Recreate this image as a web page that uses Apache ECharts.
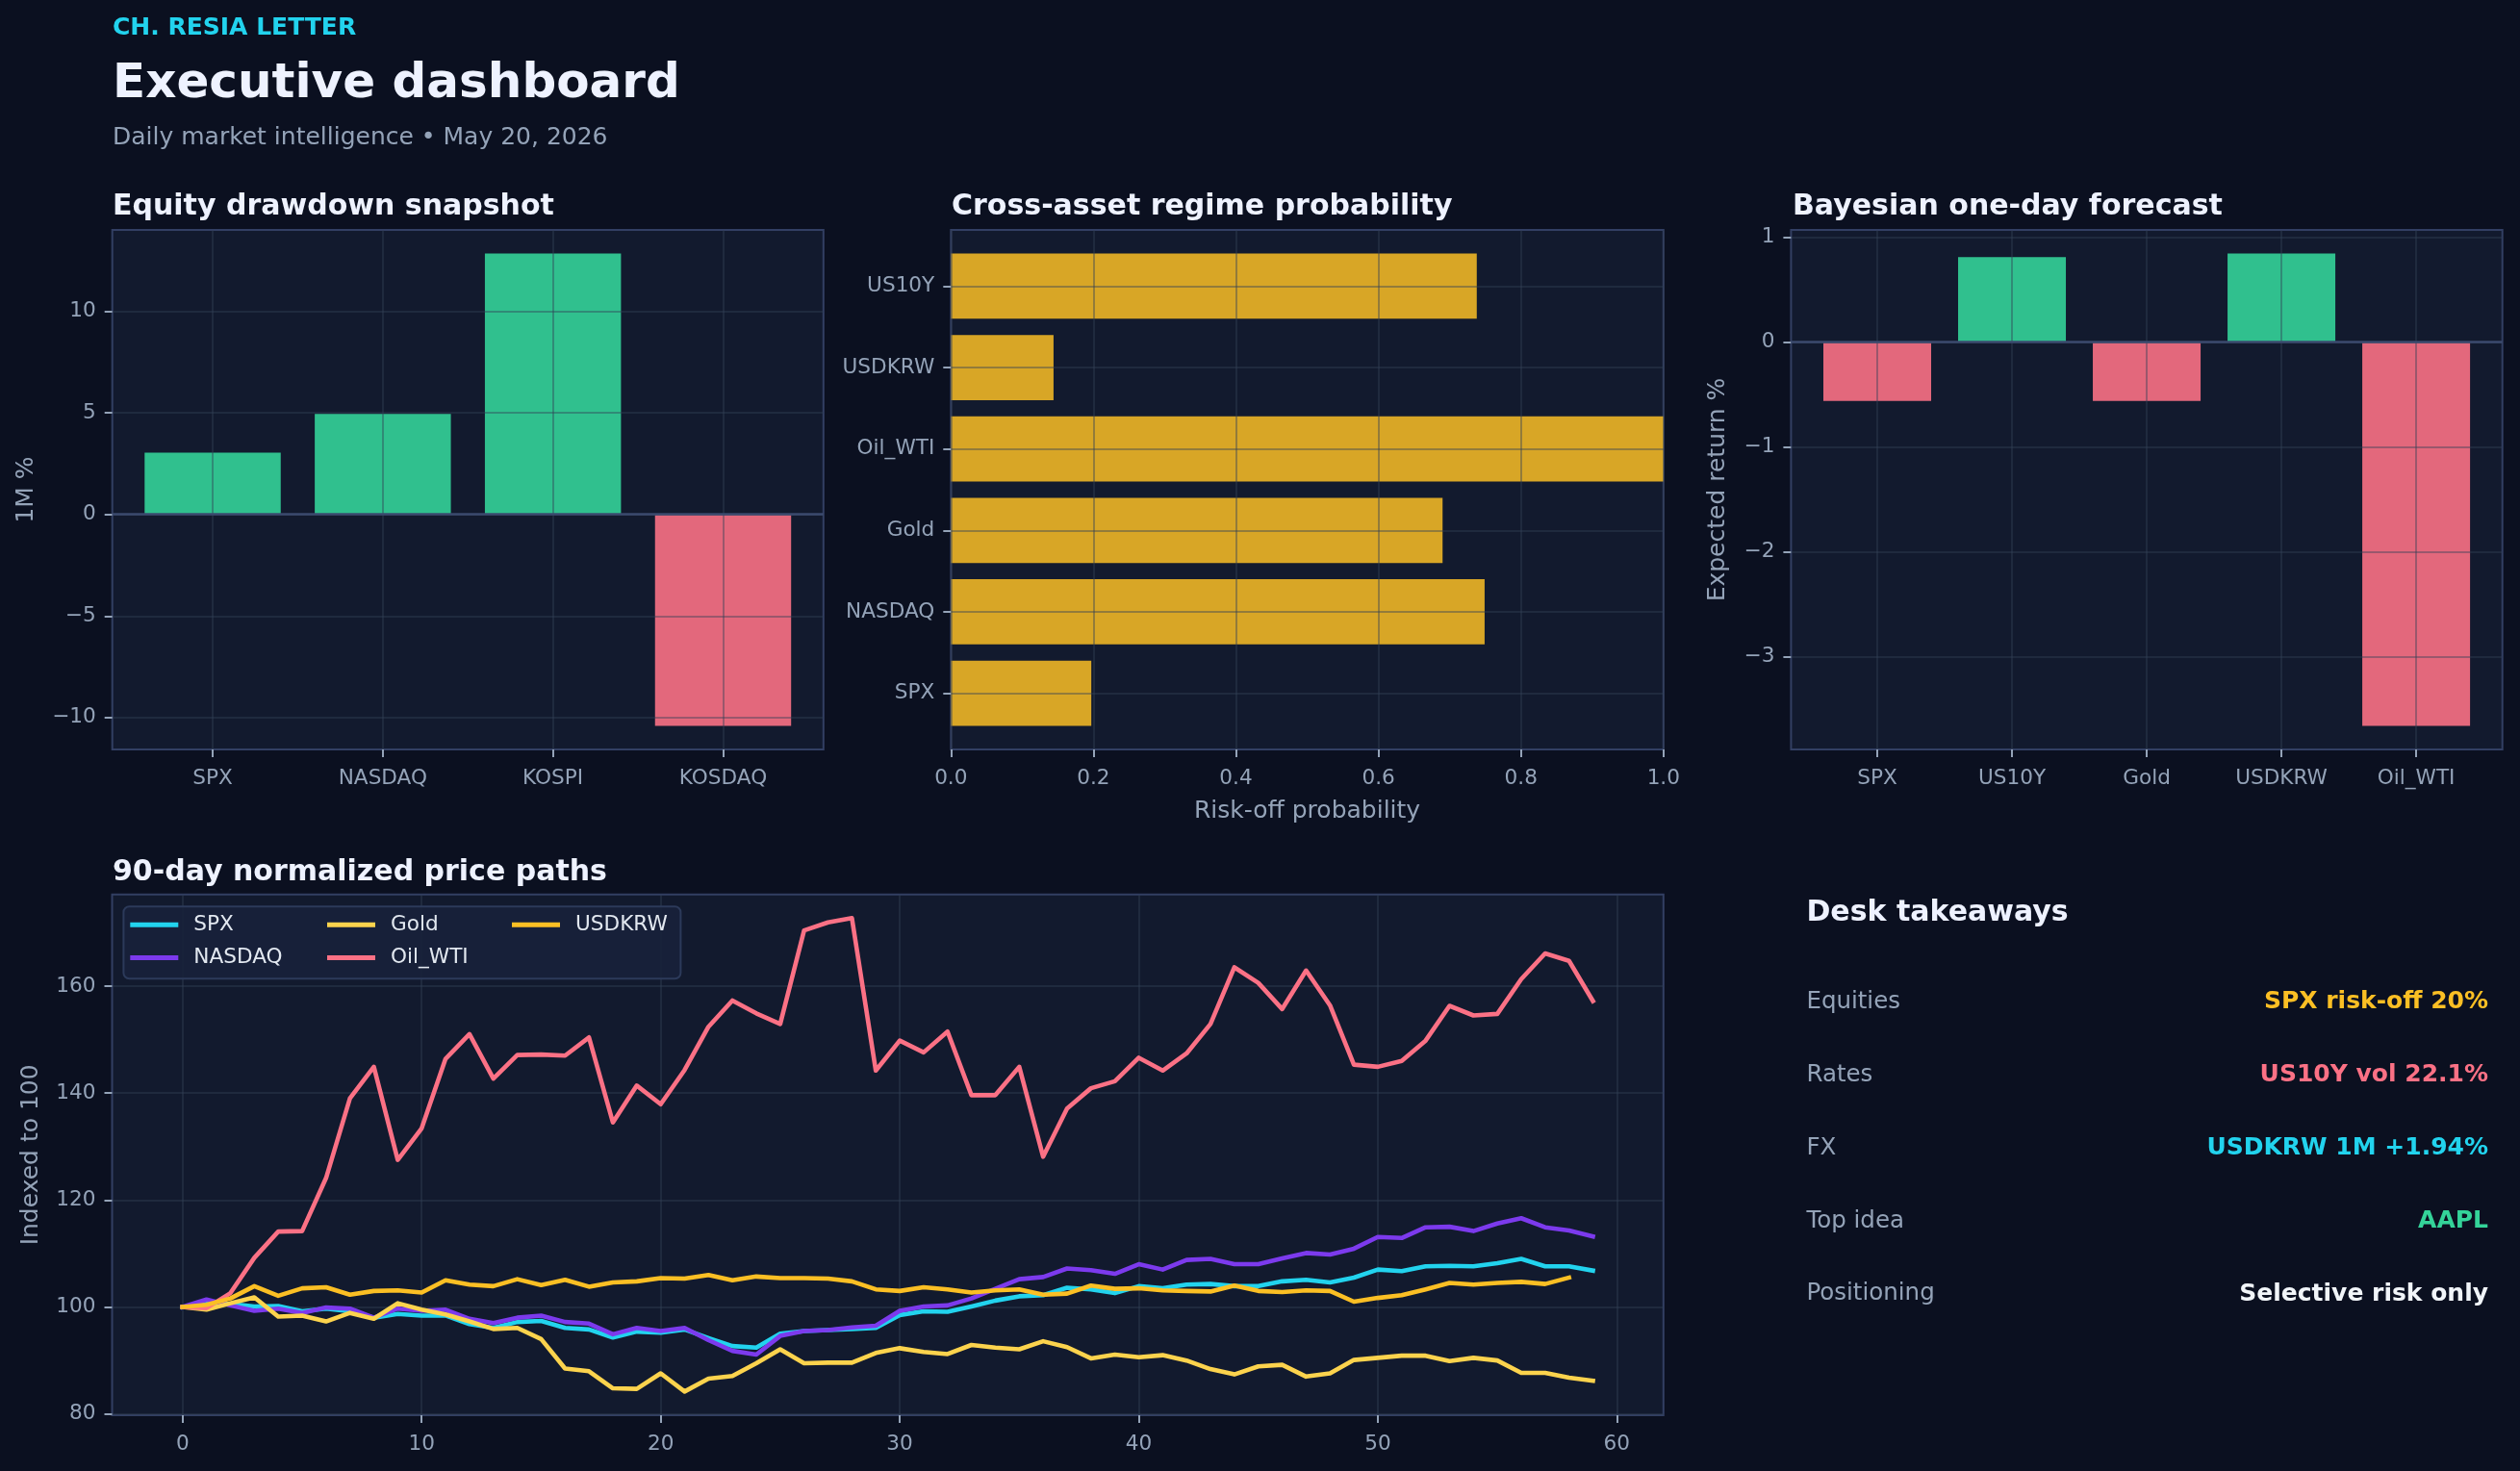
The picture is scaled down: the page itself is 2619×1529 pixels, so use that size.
<!DOCTYPE html>
<html><head><meta charset="utf-8">
<script src="https://cdn.jsdelivr.net/npm/echarts@6/dist/echarts.min.js"></script>
<style>html,body{margin:0;padding:0;background:#0b1020;}#c{width:2619px;height:1529px;}</style>
</head><body><div id="c"></div>
<script>
// ---------------- DATA ----------------
const eqCats = ['SPX', 'NASDAQ', 'KOSPI', 'KOSDAQ'];
const eqVals = [3.05, 4.95, 12.85, -10.41];
const eqTicks = [-10, -5, 0, 5, 10];

const riskCats = ['SPX', 'NASDAQ', 'Gold', 'Oil_WTI', 'USDKRW', 'US10Y'];
const riskVals = [0.197, 0.749, 0.690, 1.0, 0.144, 0.738];
const riskTicks = [0, 0.2, 0.4, 0.6, 0.8, 1.0];

const fcCats = ['SPX', 'US10Y', 'Gold', 'USDKRW', 'Oil_WTI'];
const fcVals = [-0.56, 0.81, -0.56, 0.845, -3.66];
const fcTicks = [-3, -2, -1, 0, 1];

const pathNames = ['SPX', 'NASDAQ', 'Gold', 'Oil_WTI', 'USDKRW'];
const spx = [100, 100.6, 100.6, 100.1, 100.2, 99.2, 99.7, 99.2, 98.0, 98.7, 98.4, 98.4, 96.8, 96.1, 97.2, 97.4, 96.1, 95.8, 94.3, 95.4, 95.2, 95.8, 94.2, 92.7, 92.4, 95.0, 95.5, 95.7, 95.9, 96.1, 98.5, 99.2, 99.1, 100.1, 101.2, 102.0, 102.2, 103.6, 103.3, 102.6, 103.9, 103.5, 104.2, 104.3, 103.9, 103.9, 104.8, 105.1, 104.6, 105.5, 107.0, 106.7, 107.6, 107.7, 107.6, 108.2, 109.0, 107.6, 107.6, 106.8];
const nasdaq = [100, 101.4, 100.3, 99.3, 99.7, 98.9, 99.9, 99.7, 98.0, 99.7, 99.3, 99.5, 97.8, 97.0, 98.0, 98.4, 97.2, 96.9, 94.9, 96.1, 95.5, 96.1, 93.8, 91.8, 91.1, 94.6, 95.5, 95.7, 96.2, 96.5, 99.3, 100.1, 100.3, 101.6, 103.4, 105.2, 105.6, 107.2, 106.9, 106.2, 108.0, 107.0, 108.8, 109.0, 108.0, 108.0, 109.1, 110.1, 109.8, 110.9, 113.1, 112.9, 114.9, 115.0, 114.2, 115.6, 116.6, 114.9, 114.3, 113.2];
const gold = [100, 99.5, 100.7, 101.8, 98.2, 98.4, 97.3, 98.9, 97.8, 100.7, 99.5, 98.6, 97.3, 95.9, 96.1, 94.0, 88.5, 88.0, 84.8, 84.7, 87.6, 84.2, 86.6, 87.1, 89.5, 92.1, 89.5, 89.6, 89.6, 91.4, 92.3, 91.6, 91.2, 92.9, 92.4, 92.1, 93.6, 92.5, 90.4, 91.1, 90.6, 91.0, 90.0, 88.4, 87.4, 88.9, 89.2, 87.0, 87.6, 90.1, 90.5, 90.9, 90.9, 89.9, 90.5, 90.0, 87.7, 87.7, 86.8, 86.2];
const oil = [100, 99.8, 102.6, 109.2, 114.1, 114.2, 124.1, 139.0, 144.9, 127.5, 133.4, 146.4, 151.0, 142.7, 147.1, 147.2, 147.0, 150.4, 134.5, 141.4, 137.9, 144.3, 152.4, 157.3, 154.9, 152.9, 170.4, 171.9, 172.7, 144.2, 149.8, 147.6, 151.5, 139.6, 139.6, 144.9, 128.1, 137.1, 140.9, 142.2, 146.6, 144.2, 147.4, 152.9, 163.5, 160.6, 155.7, 162.9, 156.4, 145.3, 144.9, 146.0, 149.8, 156.3, 154.5, 154.8, 161.3, 166.1, 164.7, 157.2];
const usdkrw = [100, 100.4, 101.6, 103.9, 102.1, 103.5, 103.7, 102.3, 103.0, 103.1, 102.7, 105.0, 104.2, 103.9, 105.2, 104.1, 105.1, 103.8, 104.6, 104.8, 105.4, 105.3, 106.0, 105.0, 105.7, 105.4, 105.4, 105.3, 104.8, 103.3, 103.0, 103.7, 103.3, 102.7, 103.1, 103.3, 102.3, 102.5, 104.0, 103.4, 103.5, 103.1, 103.0, 102.9, 104.0, 103.0, 102.8, 103.1, 103.0, 101.0, 101.7, 102.2, 103.3, 104.5, 104.2, 104.5, 104.7, 104.3, 105.5];
const pathXTicks = [0, 10, 20, 30, 40, 50, 60];
const pathYTicks = [80, 100, 120, 140, 160];

const takeawayLabels = ['Equities', 'Rates', 'FX', 'Top idea', 'Positioning'];
const takeawayValues = ['SPX risk-off 20%', 'US10Y vol 22.1%', 'USDKRW 1M +1.94%', 'AAPL', 'Selective risk only'];

// ---------------- STYLE / LAYOUT ----------------
const FONT = '"DejaVu Sans", sans-serif';
const C = {
  bg: '#0b1020', face: '#121a2e', frame: '#323f63', grid: 'rgba(51,65,85,0.42)',
  tick: '#94a3b8', title: '#eef2ff', zero: '#3b4a6e',
  green: '#34d399', red: '#fb7185', gold: '#fbbf24', cyan: '#22d3ee'
};
const pathColors = ['#22d3ee', '#7c3aed', '#fcd34d', '#fb7185', '#fbbf24'];
const takeawayColors = ['#fbbf24', '#fb7185', '#22d3ee', '#34d399', '#f1f5f9'];

const F_EQ = {left: 116.7, top: 239, width: 739.1, height: 540};
const F_RISK = {left: 988.3, top: 239, width: 740.5, height: 540};
const F_FC = {left: 1861.4, top: 239, width: 739.3, height: 540};
const F_PATH = {left: 116.5, top: 929.7, width: 1612.3, height: 541.3};

const TICK_FS = 21.6, NAME_FS = 25;

const grids = [], xAxes = [], yAxes = [], series = [];

function pad(lo, hi) { const m = (hi - lo) * 0.05; return [lo - m, hi + m]; }
function minusFmt(v) { return v < 0 ? '\u2212' + Math.abs(v) : String(v); }

function valueAxis(gridIndex, min, max, ticks, fmt, margin, extra) {
  return Object.assign({
    gridIndex: gridIndex, type: 'value', min: min, max: max, z: 3,
    axisLine: {show: false, onZero: false},
    axisTick: {show: true, inside: false, customValues: ticks, length: 8, lineStyle: {color: C.tick, width: 2}},
    axisLabel: {show: true, customValues: ticks, formatter: fmt, color: C.tick, fontSize: TICK_FS, fontFamily: FONT, margin: margin},
    splitLine: {show: true, lineStyle: {color: C.grid, width: 2}},
    splitArea: {show: false},
    nameTextStyle: {color: C.tick, fontSize: NAME_FS, fontFamily: FONT}
  }, extra || {});
}
function frameGrid(f) {
  return {left: f.left, top: f.top, width: f.width, height: f.height, show: true,
    backgroundColor: C.face, borderColor: C.frame, borderWidth: 2, outerBoundsMode: 'none', containLabel: false};
}
function hiddenAxis(gridIndex, type, extra) {
  return Object.assign({gridIndex: gridIndex, type: type, show: false,
    axisLine: {show: false, onZero: false}, axisTick: {show: false}, axisLabel: {show: false}, splitLine: {show: false}}, extra);
}

// vertical bar panel: display grid (frame, ticks, grid lines) + data grid (category bands)
function vBarPanel(f, cats, vals, yTicks, yName, yNameGap) {
  const n = cats.length;
  const [xmin, xmax] = pad(-0.4, n - 1 + 0.4);
  const [ymin, ymax] = pad(Math.min(0, ...vals), Math.max(0, ...vals));
  const span = xmax - xmin;
  const g = grids.length;
  grids.push(frameGrid(f));
  grids.push({left: f.left + f.width * (-0.5 - xmin) / span, top: f.top, width: f.width * n / span,
    height: f.height, show: false, outerBoundsMode: 'none', containLabel: false});
  const xi = xAxes.length, yi = yAxes.length;
  const idx = cats.map((c, i) => i);
  xAxes.push(valueAxis(g, xmin, xmax, idx, v => cats[Math.round(v)], 19));
  yAxes.push(valueAxis(g, ymin, ymax, yTicks, minusFmt, 17,
    {name: yName, nameLocation: 'middle', nameGap: yNameGap, nameRotate: 90}));
  xAxes.push(hiddenAxis(g + 1, 'category', {data: cats}));
  yAxes.push(hiddenAxis(g + 1, 'value', {min: ymin, max: ymax}));
  series.push({
    type: 'bar', xAxisIndex: xi + 1, yAxisIndex: yi + 1, barCategoryGap: '20%', z: 2,
    silent: true,
    data: vals.map(v => ({value: v, itemStyle: {color: v >= 0 ? C.green : C.red, opacity: 0.9}}))
  });
  series.push({
    type: 'scatter', xAxisIndex: xi, yAxisIndex: yi, symbolSize: 0, silent: true, z: 4,
    itemStyle: {opacity: 0},
    data: vals.map((v, i) => [i, v]),
    markLine: {silent: true, symbol: 'none', label: {show: false}, animation: false,
      lineStyle: {color: C.zero, width: 2.5, type: 'solid'}, data: [{yAxis: 0}]}
  });
}

// horizontal bar panel
function hBarPanel(f, cats, vals, xTicks, xName, xNameGap) {
  const n = cats.length;
  const [ymin, ymax] = pad(-0.4, n - 1 + 0.4);
  const span = ymax - ymin;
  const g = grids.length;
  grids.push(frameGrid(f));
  grids.push({left: f.left, top: f.top + f.height * (ymax - (n - 0.5)) / span, width: f.width,
    height: f.height * n / span, show: false, outerBoundsMode: 'none', containLabel: false});
  const xi = xAxes.length, yi = yAxes.length;
  const idx = cats.map((c, i) => i);
  xAxes.push(valueAxis(g, 0, 1, xTicks, v => v.toFixed(1), 19,
    {name: xName, nameLocation: 'middle', nameGap: xNameGap}));
  yAxes.push(valueAxis(g, ymin, ymax, idx, v => cats[Math.round(v)], 17));
  xAxes.push(hiddenAxis(g + 1, 'value', {min: 0, max: 1}));
  yAxes.push(hiddenAxis(g + 1, 'category', {data: cats}));
  series.push({
    type: 'bar', xAxisIndex: xi + 1, yAxisIndex: yi + 1, barCategoryGap: '20%', z: 2, silent: true,
    itemStyle: {color: C.gold, opacity: 0.85},
    data: vals
  });
}

vBarPanel(F_EQ, eqCats, eqVals, eqTicks, '1M %', 77);
hBarPanel(F_RISK, riskCats, riskVals, riskTicks, 'Risk-off probability', 52);
vBarPanel(F_FC, fcCats, fcVals, fcTicks, 'Expected return %', 63);

// line panel
const pathSeries = [spx, nasdaq, gold, oil, usdkrw];
(function () {
  const all = [].concat(...pathSeries);
  const maxLen = Math.max(...pathSeries.map(s => s.length));
  const [xmin, xmax] = pad(0, maxLen - 1);
  const [ymin, ymax] = pad(Math.min(...all), Math.max(...all));
  const g = grids.length;
  grids.push(frameGrid(F_PATH));
  const xi = xAxes.length, yi = yAxes.length;
  xAxes.push(valueAxis(g, xmin, xmax, pathXTicks, v => String(v), 19, {z: 0}));
  yAxes.push(valueAxis(g, ymin, ymax, pathYTicks, v => String(v), 17,
    {z: 0, name: 'Indexed to 100', nameLocation: 'middle', nameGap: 72, nameRotate: 90}));
  pathSeries.forEach((arr, k) => {
    series.push({
      type: 'line', name: pathNames[k], xAxisIndex: xi, yAxisIndex: yi, z: 2,
      symbol: 'none', showSymbol: false, silent: true,
      lineStyle: {color: pathColors[k], width: 4.6, join: 'round', cap: 'square'},
      itemStyle: {color: pathColors[k]},
      data: arr.map((v, i) => [i, v])
    });
  });
})();

// legend (matplotlib-style 3 columns, filled column-wise)
const legendCols = [135.3, 340, 532];
const legendRows = [961, 995.3];
const legends = pathNames.map((name, k) => ({
  show: true, data: [name], selectedMode: false, orient: 'horizontal', z: 5,
  left: legendCols[Math.floor(k / 2)], top: legendRows[k % 2] - TICK_FS / 2,
  padding: 0, icon: 'rect', itemWidth: 50, itemHeight: 5,
  textStyle: {color: '#e2e8f0', fontSize: TICK_FS, fontFamily: FONT, padding: [0, 0, 0, 11]}
}));

// texts
const graphics = [];
function txt(text, x, y, size, weight, color, align) {
  graphics.push({type: 'text', x: x, y: y + 0.068 * size, z: 10, silent: true,
    style: {text: text, fill: color, font: weight + ' ' + size + 'px ' + FONT,
      align: align || 'left', verticalAlign: 'middle', textAlign: align || 'left', textVerticalAlign: 'middle'}});
}
graphics.push({type: 'rect', x: 128.4, y: 942.3, z: 1, silent: true,
  shape: {width: 579, height: 75, r: 6},
  style: {fill: 'rgba(24,33,58,0.93)', stroke: '#2c3a5a', lineWidth: 2}});

txt('CH. RESIA LETTER', 117, 28.2, 25, 'bold', C.cyan);
txt('Executive dashboard', 117, 84.8, 50, 'bold', C.title);
txt('Daily market intelligence \u2022 May 20, 2026', 117, 141.8, 25, 'normal', C.tick);
txt('Equity drawdown snapshot', 117, 213.5, 30, 'bold', C.title);
txt('Cross-asset regime probability', 989, 213.5, 30, 'bold', C.title);
txt('Bayesian one-day forecast', 1863, 213.5, 30, 'bold', C.title);
txt('90-day normalized price paths', 117, 905.5, 30, 'bold', C.title);
txt('Desk takeaways', 1877.4, 947, 30, 'bold', C.title);
takeawayLabels.forEach((lab, i) => {
  const y = 1040 + i * 75.83;
  txt(lab, 1877.4, y, 24.5, 'normal', C.tick);
  txt(takeawayValues[i], 2586, y, 25, 'bold', takeawayColors[i], 'right');
});

const chart = echarts.init(document.getElementById('c'), null, {renderer: 'canvas', width: 2619, height: 1529});
chart.setOption({
  backgroundColor: C.bg,
  animation: false,
  textStyle: {fontFamily: FONT},
  grid: grids,
  xAxis: xAxes,
  yAxis: yAxes,
  legend: legends,
  series: series,
  graphic: {elements: graphics}
});
</script>
</body></html>
